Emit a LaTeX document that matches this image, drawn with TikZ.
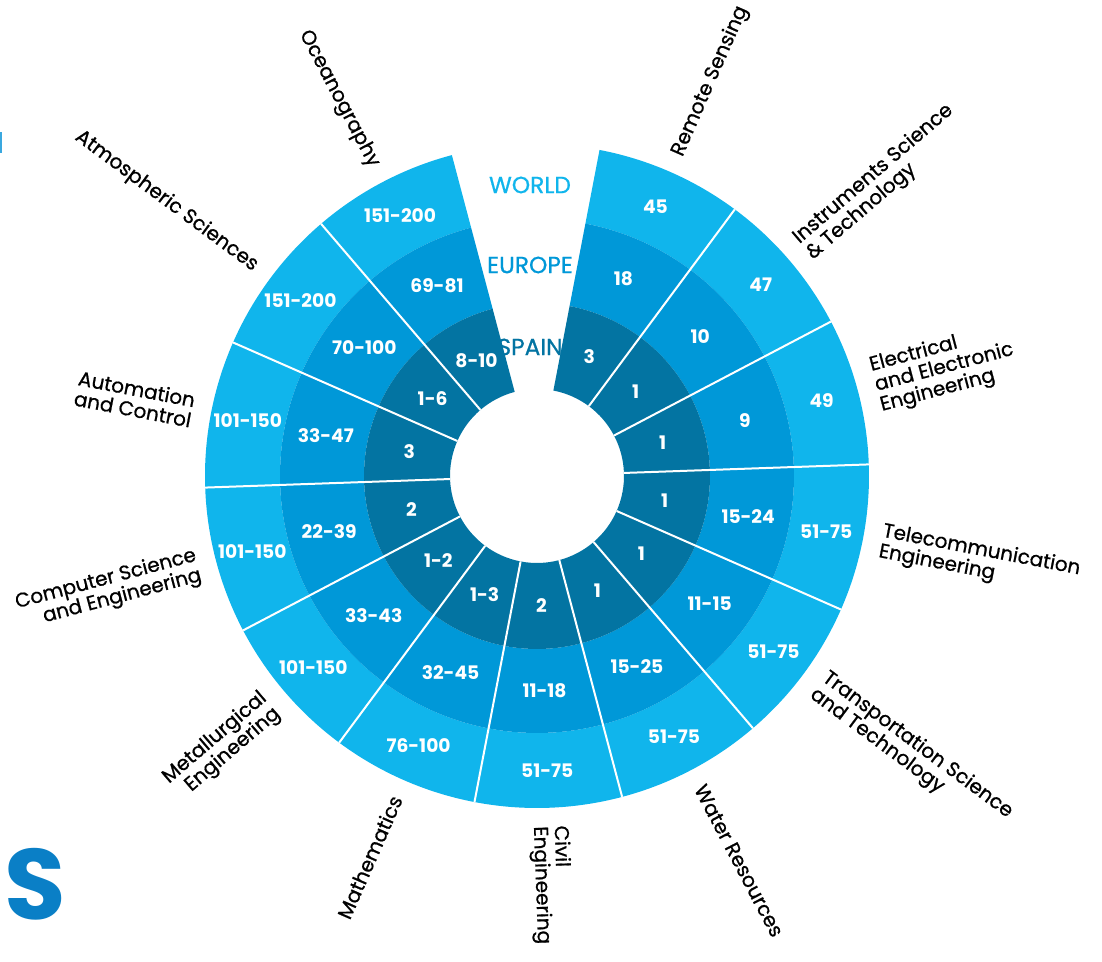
\documentclass[tikz,border=0pt]{standalone}
\usepackage{fontspec}
\setmainfont{Poppins}
\newfontfamily\medfont{Poppins}[FakeBold=0.8]

\definecolor{worldblue}{HTML}{10B5EC}
\definecolor{europeblue}{HTML}{0098D8}
\definecolor{spainblue}{HTML}{0374A2}
\definecolor{titleblue}{HTML}{0A7FC6}
\definecolor{edgeblue}{HTML}{3AA8DF}

\tikzset{
  value/.style={text=white, inner sep=0pt, font=\bfseries\fontsize{14}{14}\selectfont},
  ringname/.style={inner sep=0pt, font=\medfont\fontsize{17.5}{17.5}\selectfont},
  rlabel/.style={anchor=west, align=left, inner sep=0pt, font=\medfont\fontsize{15}{15.5}\selectfont},
  llabel/.style={anchor=east, align=right, inner sep=0pt, font=\medfont\fontsize{15}{15.5}\selectfont},
  divider/.style={draw=white, line width=1.5pt}
}

% one slice: start angle, name, world, europe, spain
\newcommand{\slice}[5]{%
  \pgfmathsetmacro{\slA}{#1}
  \pgfmathsetmacro{\slB}{#1+25.714}
  \pgfmathsetmacro{\slM}{#1+12.857}
  \fill[worldblue] (\slA:257) arc[start angle=\slA, end angle=\slB, radius=257]
    -- (\slB:332) arc[start angle=\slB, end angle=\slA, radius=332] -- cycle;
  \fill[europeblue] (\slA:173) arc[start angle=\slA, end angle=\slB, radius=173]
    -- (\slB:257) arc[start angle=\slB, end angle=\slA, radius=257] -- cycle;
  \fill[spainblue] (\slA:87) arc[start angle=\slA, end angle=\slB, radius=87]
    -- (\slB:173) arc[start angle=\slB, end angle=\slA, radius=173] -- cycle;
  \node[value] (#2-w) at (\slM:294.5) {#3};
  \node[value] (#2-e) at (\slM:215) {#4};
  \node[value] (#2-s) at (\slM:130) {#5};
}

\begin{document}
\begin{tikzpicture}[x=0.75pt, y=0.75pt]
  \useasboundingbox (-537,-486) rectangle (565,476);
  % Slices
  \slice{2}{elec}{49}{9}{1}
  \slice{27.714}{inst}{47}{10}{1}
  \slice{53.429}{remote}{45}{18}{3}
  \slice{104.857}{ocean}{151-200}{69-81}{8-10}
  \slice{130.571}{atmo}{151-200}{70-100}{1-6}
  \slice{156.286}{auto}{101-150}{33-47}{3}
  \slice{182}{comp}{101-150}{22-39}{2}
  \slice{207.714}{metal}{101-150}{33-43}{1-2}
  \slice{233.429}{math}{76-100}{32-45}{1-3}
  \slice{259.143}{civil}{51-75}{11-18}{2}
  \slice{284.857}{water}{51-75}{15-25}{1}
  \slice{310.571}{trans}{51-75}{11-15}{1}
  \slice{336.286}{tele}{51-75}{15-24}{1}
  % Dividers
  \foreach \a in {2,27.714,53.429,130.571,156.286,182,207.714,233.429,259.143,284.857,310.571,336.286}
    \draw[divider] (\a:87) -- (\a:332);
  % Ring names
  \node[ringname, text=worldblue] (world) at (-7,291) {WORLD};
  \node[ringname, text=europeblue] (europe) at (-7,211) {EUROPE};
  \node[ringname, text=spainblue] (spain) at (-7,129) {SPAIN};
  % Labels
  \node[rlabel, rotate=14.857] (elec) at (14.857:350) {Electrical\\and Electronic\\Engineering};
  \node[rlabel, rotate=40.571] (inst) at (40.571:350) {Instruments Science\\\& Technology};
  \node[rlabel, rotate=66.286] (remote) at (66.286:350) {Remote Sensing};
  \node[rlabel, rotate=-10.857] (tele) at (349.143:350) {Telecommunication\\Engineering};
  \node[rlabel, rotate=-36.571] (trans) at (323.429:350) {Transportation Science\\and Technology};
  \node[rlabel, rotate=-62.286] (water) at (297.714:350) {Water Resources};
  \node[rlabel, rotate=-88] (civil) at (272:350) {Civil\\Engineering};
  \node[llabel, rotate=66.286] (math) at (246.286:350) {Mathematics};
  \node[llabel, rotate=40.571] (metal) at (220.571:350) {Metallurgical\\Engineering};
  \node[llabel, rotate=14.857] (comp) at (194.857:350) {Computer Science\\and Engineering};
  \node[llabel, rotate=-10.857] (auto) at (169.143:350) {Automation\\and Control};
  \node[llabel, rotate=-36.571] (atmo) at (143.429:350) {Atmospheric Sciences};
  \node[llabel, rotate=-62.286] (ocean) at (117.714:350) {Oceanography};
  % Page edge
  \node[text=titleblue, inner sep=0pt, font=\bfseries\fontsize{75}{75}\selectfont] (bigS) at (-502,-408) {S};
  \fill[edgeblue] (-537,323) rectangle (-535,344);
\end{tikzpicture}
\end{document}
